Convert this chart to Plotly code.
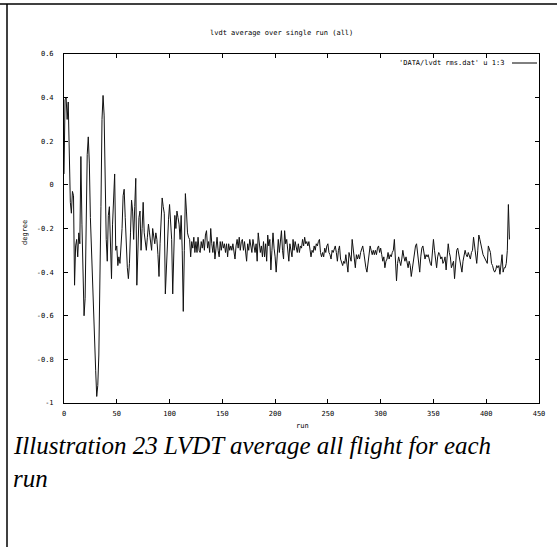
import plotly.graph_objects as go

# ---- data ----
x_ticks = [0, 50, 100, 150, 200, 250, 300, 350, 400, 450]
y_ticks = [0.6, 0.4, 0.2, 0.0, -0.2, -0.4, -0.6, -0.8, -1.0]
y_tick_text = ["0.6", "0.4", "0.2", "0", "-0.2", "-0.4", "-0.6", "-0.8", "-1"]

values_early = [
    0.05, 0.39, 0.40, 0.30, 0.38, 0.17, -0.08, -0.13, -0.03, -0.05,
    -0.46, -0.28, -0.25, -0.33, -0.22, -0.27, 0.13, -0.18, -0.40, -0.60,
    -0.52, -0.20, 0.14, 0.22, 0.10, -0.15, -0.30, -0.45, -0.60, -0.78,
    -0.85, -0.97, -0.92, -0.78, -0.30, -0.10, 0.30, 0.41, 0.32, -0.05,
    -0.25, -0.35, -0.14, -0.10, -0.25, -0.43, -0.18, -0.02, 0.05, -0.30,
    -0.28, -0.37, -0.33, -0.36, -0.30, -0.20, -0.05, -0.02, -0.15, -0.30,
    -0.38, -0.43, -0.36, -0.22, -0.07, -0.12, -0.25, -0.10, 0.03, -0.46,
    -0.25, -0.15, -0.12, -0.30, -0.20, -0.08, -0.22, -0.28, -0.30, -0.24,
    -0.18, -0.22, -0.27, -0.30, -0.20, -0.24, -0.27, -0.22, -0.25, -0.32,
    -0.42, -0.27, -0.14, -0.06, -0.10, -0.13, -0.50, -0.36, -0.25, -0.16,
    -0.09, -0.18, -0.25, -0.50, -0.30, -0.14, -0.20, -0.12, -0.15, -0.18,
    -0.25, -0.14, -0.30, -0.58, -0.30, -0.04, -0.12, -0.22, -0.24, -0.25,
]
values_mid = [
    -0.33, -0.26, -0.29, -0.24, -0.31, -0.26, -0.31, -0.24, -0.30, -0.31,
    -0.26, -0.29, -0.25, -0.30, -0.23, -0.21, -0.29, -0.26, -0.31, -0.20,
    -0.27, -0.31, -0.26, -0.34, -0.29, -0.24, -0.30, -0.33, -0.26, -0.30,
    -0.26, -0.29, -0.27, -0.31, -0.27, -0.33, -0.27, -0.30, -0.28, -0.30,
    -0.27, -0.32, -0.34, -0.28, -0.25, -0.29, -0.24, -0.30, -0.26, -0.25,
    -0.30, -0.26, -0.33, -0.35, -0.27, -0.30, -0.25, -0.29, -0.31, -0.25,
    -0.28, -0.31, -0.27, -0.35, -0.22, -0.27, -0.31, -0.28, -0.33, -0.26,
    -0.33, -0.27, -0.35, -0.23, -0.28, -0.25, -0.39, -0.30, -0.22, -0.29,
    -0.33, -0.40, -0.30, -0.25, -0.31, -0.24, -0.21, -0.30, -0.34, -0.21,
    -0.27, -0.25, -0.29, -0.35, -0.27, -0.31, -0.33, -0.25, -0.30, -0.26,
    -0.29, -0.31, -0.27, -0.31, -0.28, -0.29, -0.25, -0.28, -0.24, -0.27,
    -0.26, -0.28, -0.26, -0.29, -0.33, -0.30, -0.31, -0.28, -0.30, -0.27,
    -0.28, -0.26, -0.25, -0.31, -0.33, -0.31, -0.33, -0.29, -0.31, -0.28,
    -0.27, -0.31, -0.32, -0.34, -0.30, -0.31, -0.29, -0.28, -0.31, -0.35,
    -0.30, -0.28, -0.34, -0.36, -0.37, -0.35, -0.36, -0.32, -0.38, -0.40,
]
values_late = [
    -0.31, -0.34, -0.35, -0.25, -0.30, -0.34, -0.38, -0.32, -0.34, -0.32,
    -0.34, -0.31, -0.29, -0.28, -0.31, -0.35, -0.38, -0.40, -0.35, -0.30,
    -0.28, -0.30, -0.32, -0.30, -0.32, -0.30, -0.32, -0.29, -0.28, -0.31,
    -0.29, -0.32, -0.35, -0.33, -0.38, -0.35, -0.34, -0.31, -0.34, -0.32,
    -0.33, -0.31, -0.30, -0.25, -0.32, -0.44, -0.36, -0.33, -0.35, -0.37,
    -0.34, -0.30, -0.33, -0.35, -0.33, -0.35, -0.38, -0.35, -0.37, -0.42,
    -0.38, -0.34, -0.30, -0.28, -0.27, -0.31, -0.35, -0.40, -0.33, -0.29,
    -0.28, -0.31, -0.34, -0.32, -0.33, -0.32, -0.35, -0.36, -0.37, -0.31,
    -0.25, -0.30, -0.34, -0.38, -0.33, -0.31, -0.32, -0.34, -0.33, -0.36,
    -0.35, -0.33, -0.39, -0.30, -0.27, -0.31, -0.33, -0.38, -0.36, -0.35,
    -0.43, -0.34, -0.30, -0.29, -0.32, -0.36, -0.38, -0.40, -0.35, -0.33,
    -0.30, -0.32, -0.33, -0.31, -0.33, -0.34, -0.31, -0.30, -0.24, -0.28,
    -0.32, -0.36, -0.30, -0.23, -0.25, -0.28, -0.30, -0.32, -0.33, -0.34,
    -0.35, -0.36, -0.28, -0.30, -0.31, -0.36, -0.37, -0.39, -0.40, -0.39,
    -0.37, -0.38, -0.37, -0.41, -0.36, -0.32, -0.40, -0.38, -0.38, -0.36,
    -0.30, -0.09, -0.25,
]
values = values_early + values_mid + values_late
runs = list(range(len(values)))

title_text = "lvdt average over single run (all)"
legend_text = "'DATA/lvdt rms.dat' u 1:3"
x_label = "run"
y_label = "degree"
caption_1 = "Illustration 23 LVDT average all flight for each"
caption_2 = "run"

# ---- layout geometry (pixels) ----
W, H = 557, 547
L, R, T, B = 64, 539, 54, 403
PW, PH = R - L, B - T


def px(x):
    return (x - L) / PW


def py(y):
    return (B - y) / PH


mono = "DejaVu Sans Mono"

fig = go.Figure()
fig.add_trace(go.Scatter(
    x=runs, y=values, mode="lines",
    line=dict(color="#111111", width=1),
    showlegend=False, hoverinfo="skip",
))

axis_common = dict(
    showline=True, linecolor="#000000", linewidth=1, mirror="ticks",
    ticks="inside", ticklen=4, tickcolor="#000000", tickwidth=1,
    showgrid=False, zeroline=False,
    tickfont=dict(family=mono, size=7, color="#000000"),
)

fig.update_layout(
    width=W, height=H,
    margin=dict(l=L, r=W - R, t=T, b=H - B, pad=0),
    paper_bgcolor="#ffffff", plot_bgcolor="#ffffff",
    xaxis=dict(range=[0, 450], tickvals=x_ticks,
               ticktext=[str(v) for v in x_ticks],
               ticklabelstandoff=4, **axis_common),
    yaxis=dict(range=[-1, 0.6], tickvals=y_ticks, ticktext=y_tick_text,
               ticklabelstandoff=8, **axis_common),
    showlegend=False,
)

annotations = [
    dict(text=title_text, x=px(281), y=py(33), xanchor="center", yanchor="middle",
         font=dict(family=mono, size=7, color="#000000")),
    dict(text=x_label, x=px(302), y=py(426), xanchor="center", yanchor="middle",
         font=dict(family=mono, size=7, color="#000000")),
    dict(text=y_label, x=px(25), y=py(233), xanchor="center", yanchor="middle",
         textangle=-90, font=dict(family=mono, size=7, color="#000000")),
    dict(text=legend_text, x=px(506), y=py(63), xanchor="right", yanchor="middle",
         font=dict(family=mono, size=7, color="#000000")),
    dict(text="<i>" + caption_1 + "</i>", x=px(11), y=py(445), xanchor="left",
         yanchor="middle", font=dict(family="Liberation Serif", size=25, color="#000000")),
    dict(text="<i>" + caption_2 + "</i>", x=px(11), y=py(478), xanchor="left",
         yanchor="middle", font=dict(family="Liberation Serif", size=25, color="#000000")),
]
for a in annotations:
    a.update(xref="paper", yref="paper", showarrow=False)
fig.update_layout(annotations=annotations)

shapes = [
    # legend line sample
    dict(type="line", x0=px(512), x1=px(537), y0=py(63), y1=py(63),
         line=dict(color="#000000", width=1)),
    # page frame lines
    dict(type="line", x0=px(0), x1=px(W), y0=py(4), y1=py(4),
         line=dict(color="#000000", width=1.5)),
    dict(type="line", x0=px(7), x1=px(7), y0=py(4), y1=py(H),
         line=dict(color="#000000", width=1.5)),
]
for s in shapes:
    s.update(xref="paper", yref="paper")
fig.update_layout(shapes=shapes)

fig.write_html("out.html")
